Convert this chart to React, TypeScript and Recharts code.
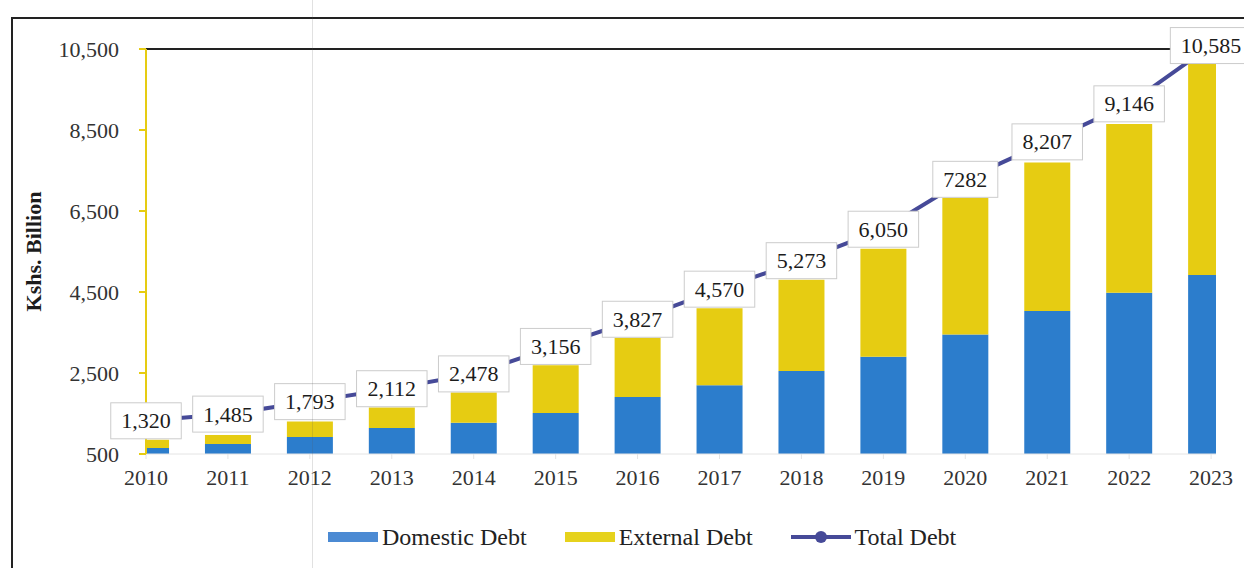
import {
  Bar,
  ComposedChart,
  Label,
  LabelList,
  Legend,
  Line,
  ReferenceLine,
  XAxis,
  YAxis,
} from "recharts"

const years = [2010, 2011, 2012, 2013, 2014, 2015, 2016, 2017, 2018, 2019, 2020, 2021, 2022, 2023]
const domesticDebt = [650, 750, 920, 1140, 1270, 1510, 1910, 2200, 2550, 2900, 3450, 4030, 4480, 4920]
const externalDebt = [200, 220, 380, 510, 750, 1180, 1460, 1900, 2250, 2670, 3380, 3670, 4170, 5210]
const totalDebt = [1320, 1485, 1793, 2112, 2478, 3156, 3827, 4570, 5273, 6050, 7282, 8207, 9146, 10585]
const totalLabels = [
  "1,320", "1,485", "1,793", "2,112", "2,478", "3,156", "3,827",
  "4,570", "5,273", "6,050", "7282", "8,207", "9,146", "10,585",
]
const yTicks = [500, 2500, 4500, 6500, 8500, 10500]

const data = years.map((year, i) => ({
  year,
  domestic: domesticDebt[i],
  external: externalDebt[i],
  total: totalDebt[i],
}))

const FONT = "'Liberation Serif', 'Times New Roman', serif"
const BLUE = "#2c7dcc"
const YELLOW = "#e6cc12"
const NAVY = "#464a98"

function textWidth(s: string) {
  let w = 0
  for (const ch of s) w += ch === "," ? 5.5 : 11
  return w
}

function TotalLabel(props: any) {
  const { x, y, index } = props
  const text = totalLabels[index]
  const w = textWidth(text) + 21
  const h = 36
  return (
    <g>
      <rect x={x - w / 2} y={y - h / 2} width={w} height={h} fill="#fff" stroke="#cccccc" strokeWidth={1} />
      <text
        x={x}
        y={y}
        textAnchor="middle"
        dominantBaseline="central"
        fontFamily={FONT}
        fontSize={22}
        fill="#1c1c1c"
      >
        {text}
      </text>
    </g>
  )
}

function YTitle(props: any) {
  const vb = props.viewBox
  const cx = vb.x + 33
  const cy = vb.y + vb.height / 2
  return (
    <text
      x={cx}
      y={cy}
      transform={`rotate(-90, ${cx}, ${cy})`}
      textAnchor="middle"
      dominantBaseline="central"
      fontFamily={FONT}
      fontSize={22}
      fontWeight="bold"
      fill="#1c1c1c"
    >
      Kshs. Billion
    </text>
  )
}

function ChartLegend() {
  const item = { display: "flex", alignItems: "center", gap: 4 }
  return (
    <div
      style={{
        height: 40,
        display: "flex",
        alignItems: "center",
        paddingLeft: 328,
        gap: 38,
        fontFamily: FONT,
        fontSize: 24,
        color: "#222",
      }}
    >
      <div style={item}>
        <span style={{ width: 50, height: 10, background: "#4b8ad3", display: "inline-block" }} />
        <span>Domestic Debt</span>
      </div>
      <div style={item}>
        <span style={{ width: 50, height: 10, background: "#e6d21c", display: "inline-block" }} />
        <span>External Debt</span>
      </div>
      <div style={item}>
        <svg width={60} height={14}>
          <line x1={0} y1={7} x2={60} y2={7} stroke={NAVY} strokeWidth={4} />
          <circle cx={30} cy={7} r={6} fill={NAVY} />
        </svg>
        <span>Total Debt</span>
      </div>
    </div>
  )
}

export default function App() {
  return (
    <div style={{ position: "relative", width: 1244, height: 568, overflow: "hidden", background: "#fff" }}>
      <style>{"body{margin:0}"}</style>
      <div
        style={{
          position: "absolute",
          left: 11,
          top: 17,
          width: 1400,
          height: 700,
          borderLeft: "2px solid #222",
          borderTop: "2px solid #222",
        }}
      />
      <ComposedChart
        width={1244}
        height={568}
        data={data}
        margin={{ top: 49, right: 28, bottom: 11, left: 0 }}
        style={{ position: "absolute", left: 0, top: 0 }}
      >
        <XAxis
          dataKey="year"
          type="number"
          domain={[2010, 2023.06]}
          ticks={years}
          allowDataOverflow
          height={63}
          axisLine={{ stroke: "#e4e4e4" }}
          tickLine={{ stroke: "#e4e4e4" }}
          tickSize={5}
          tickMargin={10}
          tick={{ fill: "#333", fontSize: 22, fontFamily: FONT }}
        />
        <YAxis
          type="number"
          domain={[500, 10500]}
          ticks={yTicks}
          allowDataOverflow
          width={146}
          axisLine={{ stroke: YELLOW, strokeWidth: 2 }}
          tickLine={{ stroke: YELLOW, strokeWidth: 2 }}
          tickSize={7}
          tickMargin={20}
          tick={{ fill: "#333", fontSize: 22, fontFamily: FONT }}
          tickFormatter={(v: number) => v.toLocaleString("en-US")}
        >
          <Label content={YTitle} />
        </YAxis>
        <ReferenceLine y={10500} stroke="#222" strokeWidth={2} />
        <Bar dataKey="domestic" stackId="debt" fill={BLUE} barSize={46} isAnimationActive={false} />
        <Bar dataKey="external" stackId="debt" fill={YELLOW} barSize={46} isAnimationActive={false} />
        <Line
          dataKey="total"
          stroke={NAVY}
          strokeWidth={4}
          dot={false}
          activeDot={false}
          isAnimationActive={false}
        >
          <LabelList dataKey="total" content={TotalLabel} />
        </Line>
        <Legend verticalAlign="bottom" content={ChartLegend} wrapperStyle={{ left: 0, width: 1244 }} />
      </ComposedChart>
      <div
        style={{
          position: "absolute",
          left: 312,
          top: 0,
          width: 1,
          height: 568,
          background: "rgba(90,90,90,0.18)",
          pointerEvents: "none",
        }}
      />
    </div>
  )
}
